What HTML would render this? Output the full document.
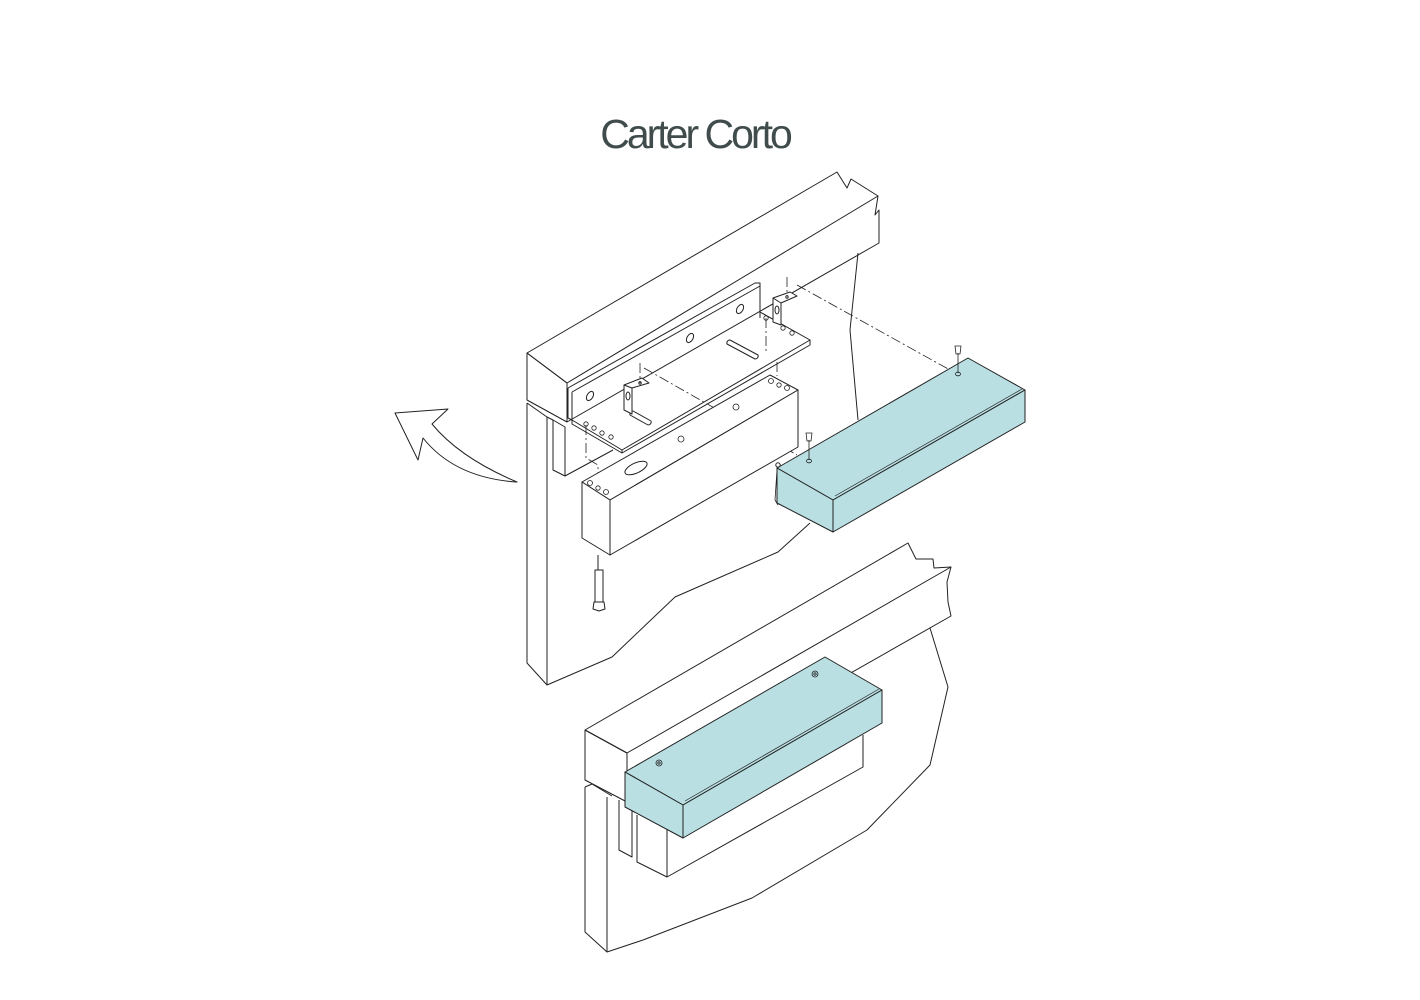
<!DOCTYPE html>
<html><head><meta charset="utf-8"><style>
html,body{margin:0;padding:0;background:#fff;}
svg{display:block}
</style></head><body>
<svg width="1420" height="1000" viewBox="0 0 1420 1000" xmlns="http://www.w3.org/2000/svg">
<rect width="1420" height="1000" fill="#fff"/>
<text x="695" y="148" text-anchor="middle" font-family="Liberation Sans, Arial, sans-serif" font-size="41" fill="#404c4c" letter-spacing="-3">Carter Corto</text>
<g fill="none" stroke="#222" stroke-width="1" stroke-linejoin="round">
<path d="M395,413 L448,409 L432,424 Q460,458 517,482 L517,482 Q455,478 423,438 L418,460 Z" fill="#fff"/>
<path d="M527,353 L837,172 L847,188 L851,179 L878,196 L875,215 L879,210 L879,243 L567,422 L567,383 Z" fill="#fff"/>
<path d="M527,353 L567,383 L878,196"/>
<path d="M527,353 L527,400 L567,422"/>
<path d="M527,403 L527,663 L547,685 L612,657 L675,597 L778,552 L810,523"/>
<path d="M547,417 L547,685"/>
<path d="M527,403 L547,417 L553,420"/>
<path d="M858,253 L850,330 L858,420"/>
<path d="M553,420 L553,470 L565,476 L565,427 Z"/>
<path d="M565,476 L613,450"/>
<path d="M568,388 L755,283 L760,283 L760,318"/>
<path d="M572,392 L760,286"/>
<path d="M568,388 L568,418 L572,420"/>
<path d="M572,392 L572,420 L622,450 L810,340 L760,312"/>
<path d="M572,420 L572,424 L622,453 L810,345 L810,340"/>
<path d="M622,450 L622,453"/>
<ellipse cx="590" cy="396" rx="3" ry="5" transform="rotate(30 590 396)"/>
<ellipse cx="690" cy="338" rx="3" ry="5" transform="rotate(30 690 338)"/>
<ellipse cx="740" cy="309" rx="3" ry="5" transform="rotate(30 740 309)"/>
<path d="M633,411 L651,421 A3,3 0 0 1 648,425 L630,415 A3,3 0 0 1 633,411 Z"/>
<path d="M730,340 L758,355 A3,3 0 0 1 755,359 L727,344 A3,3 0 0 1 730,340 Z"/>
<g stroke-width="0.8"><circle cx="586" cy="424" r="2.2"/><circle cx="594" cy="428" r="2.2"/><circle cx="602" cy="433" r="2.2"/><circle cx="611" cy="437" r="2.2"/>
<circle cx="766" cy="318" r="2.2"/><circle cx="783" cy="328" r="2.2"/><circle cx="792" cy="333" r="2.2"/></g>
<path d="M624,385 L642,378 L649,383 L632,388 Z M624,385 L624,410 L632,414 L632,388 M632,414 L632,392" fill="#fff"/>
<path d="M773,298 L790,292 L797,296 L781,303 Z M773,298 L773,322 L781,325 L781,303 M781,325 L781,305" fill="#fff"/>
<ellipse cx="628" cy="396" rx="2" ry="4"/><ellipse cx="777" cy="310" rx="2" ry="4"/>
<circle cx="640" cy="383" r="1.2"/><circle cx="787" cy="297" r="1.2"/>
<g stroke-dasharray="10,3,2,3" stroke-width="0.8">
<path d="M787,277 L787,296"/>
<path d="M797,285 L950,370"/>
<path d="M640,363 L640,383"/>
<path d="M644,368 L797,455"/>
<path d="M766,318 L766,352"/>
<path d="M777,362 L777,376"/>
<path d="M586,425 L586,458 L598,465 L598,487"/>
</g>
<path d="M582,482 L770,375 L798,390 L610,500 Z" fill="#fff"/>
<path d="M610,500 L798,390 L798,447 L610,555 Z" fill="#fff"/>
<path d="M582,482 L610,500 L610,555 L582,538 Z" fill="#fff"/>
<ellipse cx="636" cy="468" rx="12" ry="5" transform="rotate(-25 636 468)"/>
<g stroke-width="0.8"><circle cx="681" cy="439" r="3"/><circle cx="736" cy="407" r="3"/>
<circle cx="590" cy="483" r="2.5"/><circle cx="606" cy="492" r="2.5"/><circle cx="598" cy="488" r="2.2"/>
<circle cx="771" cy="381" r="2.5"/><circle cx="787" cy="388" r="2.5"/><circle cx="779" cy="385" r="2.2"/></g>
<path d="M598,555 L598,570"/>
<path d="M595,570 L603,570 L603,602 L595,602 Z"/>
<path d="M594,602 L604,602 L605,609 L599,611 L593,609 Z"/>
<path d="M777,468 L968,358 L1025,390 L833,500 Z" fill="#b9dfe3"/>
<path d="M833,500 L1025,390 L1025,422 L833,532 Z" fill="#b9dfe3"/>
<path d="M777,468 L833,500 L833,532 L777,503 Z" fill="#b9dfe3"/>
<path d="M835,496 L1022,389" stroke-width="0.7"/>
<path d="M777,470 L775,500 L778,505" stroke-width="0.8"/>
<circle cx="778" cy="465" r="2.2"/>
<g stroke-width="0.8">
<path d="M809,440 L809,460"/><path d="M806,433 L812,433 L811,441 L807,441 Z"/><ellipse cx="809" cy="461" rx="2.5" ry="1.8"/>
<path d="M958,353 L958,373"/><path d="M955,346 L961,346 L960,354 L956,354 Z"/><ellipse cx="958" cy="374" rx="2.5" ry="1.8"/>
</g>
<path d="M585,730 L908,543 L916,559 L933,559 L934,568 L951,567 L947,582 L948,602 L951,616 L627,800 L627,753 Z" fill="#fff"/>
<path d="M585,730 L627,753 L951,567"/>
<path d="M585,730 L585,780 L627,802"/>
<path d="M585,787 L585,932 L607,952 L643,940 L752,898 L867,830 L930,765 L948,687 L930,628"/>
<path d="M607,797 L607,952"/>
<path d="M585,787 L592,784 L612,796"/>
<path d="M619,800 L619,850 L632,857 L632,808"/>
<path d="M637,815 L637,862 L667,877 L863,767 L863,735"/>
<path d="M667,826 L667,877"/>
<path d="M625,772 L825,657 L882,690 L683,805 Z" fill="#b9dfe3"/>
<path d="M683,805 L882,690 L882,723 L683,838 Z" fill="#b9dfe3"/>
<path d="M625,772 L683,805 L683,838 L625,807 Z" fill="#b9dfe3"/>
<path d="M685,801 L879,689" stroke-width="0.7"/>
<g stroke-width="0.8"><circle cx="659" cy="763" r="3"/><circle cx="815" cy="674" r="3"/><circle cx="659" cy="763" r="1.2"/><circle cx="815" cy="674" r="1.2"/></g>
</g>
</svg>
</body></html>
